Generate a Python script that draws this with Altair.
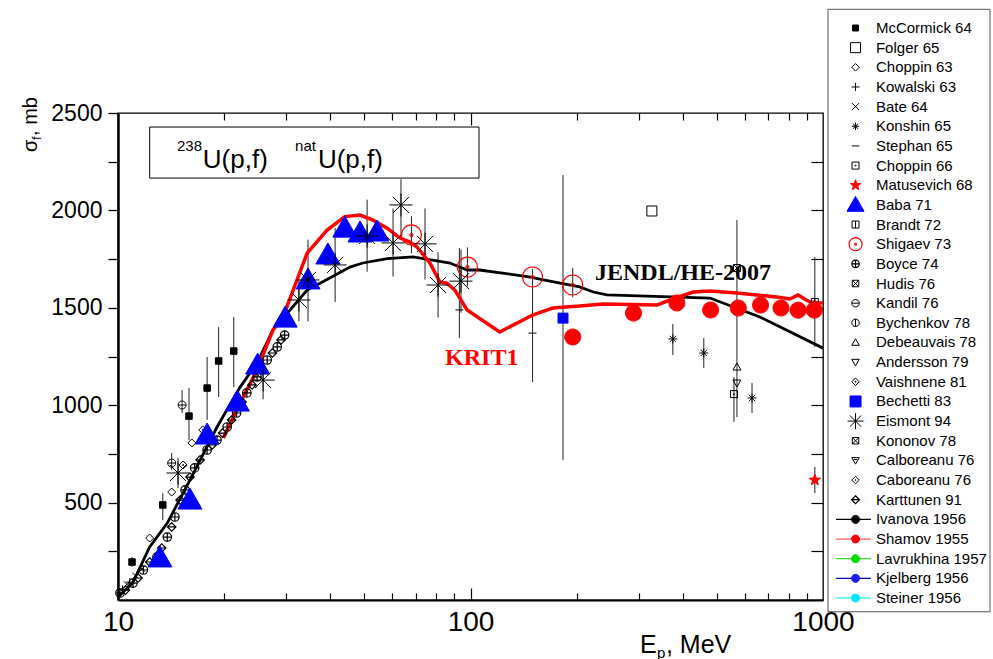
import altair as alt
import pandas as pd

# ------------------------------------------------------------------ data
# evaluated curves
jendl_e = [10, 11.0, 12.3, 13.8, 16.0, 17.1, 19.1, 22.2, 24.8, 27.5, 34.4, 39.9, 45.5, 49.5,
           58.0, 68.7, 87.5, 97.8, 106, 148, 161, 204, 223, 244, 478, 662, 1000]
jendl_s = [15, 87, 272, 395, 616, 718, 888, 1093, 1216, 1386, 1591, 1653, 1709, 1730,
           1752, 1761, 1730, 1694, 1694, 1658, 1643, 1607, 1581, 1566, 1550, 1453, 1293]

krit_e = [19.9, 22.2, 24.8, 27.5, 29.4, 34.4, 39.2, 44.0, 48.6, 52.9, 58.0, 63.1, 67.3, 70.5,
          76.7, 81.9, 85.7, 90.3, 97.8, 121, 150, 171, 204, 238, 338, 368, 428, 478, 570,
          740, 806, 849, 918, 1000]
krit_s = [832, 1011, 1180, 1386, 1453, 1781, 1899, 1968, 1976, 1950, 1909, 1858, 1838, 1812,
          1730, 1632, 1627, 1591, 1489, 1376, 1463, 1499, 1509, 1519, 1514, 1540, 1581, 1586,
          1576, 1555, 1545, 1566, 1530, 1524]

# experimental points
mccormick_e = [10.96, 13.4, 15.9, 17.9, 19.3, 21.3]
mccormick_s = [195, 488, 944, 1088, 1227, 1278]
mccormick_lo = [170, 410, 821, 924, 1042, 1093]
mccormick_hi = [221, 549, 1088, 1247, 1401, 1453]

folger_e = [327]
folger_s = [1997]

choppin63_e = [12.3, 14.2, 16.2]
choppin63_s = [318, 554, 806]

kowalski_e = [10.3, 10.8]
kowalski_s = [55, 92]

bate_e = [10.6, 11.2, 11.7]
bate_s = [80, 125, 160]

konshin_e = [375, 459, 629]
konshin_s = [1340, 1268, 1037]
konshin_lo = [1258, 1191, 960]
konshin_hi = [1417, 1345, 1114]

stephan_e = [93, 150]
stephan_s = [1489, 1370]
stephan_lo = [1345, 1119]
stephan_hi = [1807, 1607]

choppin66_e = [559]
choppin66_s = [1057]
choppin66_lo = [914]
choppin66_hi = [1145]

matusevich_e = [948]
matusevich_s = [616]
matusevich_lo = [549]
matusevich_hi = [683]

baba_e = [13.15, 16.0, 17.9, 21.8, 24.9, 29.8, 34.6, 39.4, 44.0, 48.6, 54.3]
baba_s = [216, 513, 847, 1016, 1206, 1447, 1643, 1771, 1909, 1884, 1889]

brandt_e = [948]
brandt_s = [1530]
brandt_lo = [1299]
brandt_hi = [1761]

shigaev_e = [68, 98, 150, 195]
shigaev_s = [1874, 1709, 1658, 1617]
shigaev_lo = [1780, 1610, 1600, 1555]
shigaev_hi = [1970, 1810, 1700, 1704]

boyce_e = [10.13, 11.03, 11.8, 12.9, 13.8, 14.5, 15.5, 16.5, 17.9, 19.1, 20.4, 21.7, 23.2,
           24.8, 26.5, 28.3, 29.7]
boyce_s = [36, 87, 154, 221, 323, 426, 565, 678, 770, 821, 888, 960, 1063, 1145, 1232, 1299, 1360]

hudis_e = [570]
hudis_s = [1704]
hudis_lo = [939]
hudis_hi = [1950]

kandil_e = [15.2, 14.2]
kandil_s = [1001, 703]
kandil_lo = [960, 667]
kandil_hi = [1078, 754]

debeauvais_e = [570]
debeauvais_s = [1196]

andersson_e = [570]
andersson_s = [1114]

vaishnene_e = [15.3, 17.4]
vaishnene_s = [693, 873]

bechetti_e = [183]
bechetti_s = [1447]
bechetti_lo = [719]
bechetti_hi = [2182]

eismont_e = [14.8, 25.8, 32.6, 34.6, 41.3, 50.9, 60.3, 63.5, 74.3, 80.9, 94.0]
eismont_s = [652, 1129, 1540, 1643, 1720, 1869, 1833, 2028, 1828, 1617, 1637]
eismont_lo = [575, 1030, 1430, 1430, 1530, 1685, 1660, 1850, 1645, 1450, 1475]
eismont_hi = [730, 1230, 1650, 1850, 1910, 2055, 2010, 2160, 2010, 1785, 1800]

karttunen_e = [10.5, 11.4, 12.3, 13.3, 14.2, 15.0, 16.0, 17.1, 18.5, 19.8, 21.0, 22.5, 24.0,
               25.6, 27.4, 29.0]
karttunen_s = [51, 113, 195, 267, 375, 513, 631, 719, 796, 857, 924, 1016, 1104, 1181, 1268, 1335]

shamov_e = [195, 290, 385, 480, 575, 665, 760, 850, 945]
shamov_s = [1350, 1473, 1525, 1489, 1499, 1514, 1499, 1488, 1488]

# axis ticks
x_tick_labels = [10, 100, 1000]
x_minor = [20, 30, 40, 50, 60, 70, 80, 90, 200, 300, 400, 500, 600, 700, 800, 900]
y_ticks = [250, 500, 750, 1000, 1250, 1500, 1750, 2000, 2250, 2500]

legend_names = ["McCormick 64", "Folger 65", "Choppin 63", "Kowalski 63", "Bate 64",
                "Konshin 65", "Stephan 65", "Choppin 66", "Matusevich 68", "Baba 71",
                "Brandt 72", "Shigaev 73", "Boyce 74", "Hudis 76", "Kandil 76",
                "Bychenkov 78", "Debeauvais 78", "Andersson 79", "Vaishnene 81", "Bechetti 83",
                "Eismont 94", "Kononov 78", "Calboreanu 76", "Caboreanu 76", "Karttunen 91",
                "Ivanova 1956", "Shamov 1955", "Lavrukhina 1957", "Kjelberg 1956", "Steiner 1956"]

# ------------------------------------------------------------------ styles
C = "M-1,0A1,1,0,1,1,1,0A1,1,0,1,1,-1,0Z"
SQ = "M-1,-1L1,-1L1,1L-1,1Z"
DI = "M0,-1L1,0L0,1L-1,0Z"
TU = "M0,-1L1,0.75L-1,0.75Z"
TD = "M0,1L1,-0.75L-1,-0.75Z"
DOT = "M-0.15,0A0.15,0.15,0,1,1,0.15,0A0.15,0.15,0,1,1,-0.15,0Z"
HL = "M-1,0L1,0"
VL = "M0,-1L0,1"
XL = "M-1,-1L1,1M-1,1L1,-1"
XD = "M-0.7,-0.7L0.7,0.7M-0.7,0.7L0.7,-0.7"
STAR = ("M0,-1L0.235,-0.324L0.951,-0.309L0.38,0.124L0.588,0.809L0,0.4L-0.588,0.809"
        "L-0.38,0.124L-0.951,-0.309L-0.235,-0.324Z")
NONE = "transparent"
RED = "#ff0000"
BLUE = "#0000ff"

# name: (shape, stroke, fill, plot size, legend size, stroke width)
style = {
    "McCormick 64": (SQ, "black", "black", 42, 36, 1),
    "Folger 65": (SQ, "black", NONE, 100, 100, 1),
    "Choppin 63": (DI, "black", NONE, 64, 56, 1),
    "Kowalski 63": (HL + VL, "black", NONE, 64, 64, 1),
    "Bate 64": (XL, "black", NONE, 36, 49, 1),
    "Konshin 65": (HL + VL + XD, "black", NONE, 81, 56, 1),
    "Stephan 65": (HL, "black", NONE, 64, 56, 1),
    "Choppin 66": (SQ + DOT, "black", NONE, 49, 49, 1),
    "Matusevich 68": (STAR, RED, RED, 144, 121, 1),
    "Baba 71": (TU, BLUE, BLUE, 576, 289, 1),
    "Brandt 72": (SQ + VL, "black", NONE, 49, 49, 1),
    "Shigaev 73": (C + DOT, RED, NONE, 400, 169, 1.2),
    "Boyce 74": (C + HL + VL, "black", NONE, 72, 56, 1.2),
    "Hudis 76": (SQ + XL, "black", NONE, 49, 42, 1),
    "Kandil 76": (C + HL, "black", NONE, 64, 56, 1),
    "Bychenkov 78": (C + VL, "black", NONE, 64, 56, 1),
    "Debeauvais 78": (TU, "black", NONE, 64, 56, 1),
    "Andersson 79": (TD, "black", NONE, 64, 56, 1),
    "Vaishnene 81": (DI + DOT, "black", NONE, 64, 56, 1),
    "Bechetti 83": (SQ, BLUE, BLUE, 100, 121, 1),
    "Eismont 94": (HL + VL + XD, "black", NONE, 529, 256, 1),
    "Kononov 78": (SQ + XL, "black", NONE, 49, 42, 1),
    "Calboreanu 76": (TD + "M-0.5,-0.25L0.5,-0.25", "black", NONE, 64, 56, 1),
    "Caboreanu 76": (DI + DOT, "black", NONE, 64, 56, 1),
    "Karttunen 91": (DI + HL, "black", NONE, 72, 64, 1.2),
    "Ivanova 1956": (C, "black", "black", 49, 64, 1),
    "Shamov 1955": (C, RED, RED, 256, 64, 1),
    "Lavrukhina 1957": (C, "#00dd00", "#00dd00", 49, 64, 1),
    "Kjelberg 1956": (C, "#1a1aff", "#1a1aff", 49, 64, 1),
    "Steiner 1956": (C, "#00e5ff", "#00e5ff", 49, 64, 1),
}
legend_line_colors = {"Ivanova 1956": "black", "Shamov 1955": "#ff5a5a",
                      "Lavrukhina 1957": "#33dd33", "Kjelberg 1956": "#0000b0",
                      "Steiner 1956": "#40f0ff"}

# ------------------------------------------------------------------ tables
series = [
    ("Boyce 74", boyce_e, boyce_s, None, None),
    ("Karttunen 91", karttunen_e, karttunen_s, None, None),
    ("Kowalski 63", kowalski_e, kowalski_s, None, None),
    ("Bate 64", bate_e, bate_s, None, None),
    ("McCormick 64", mccormick_e, mccormick_s, mccormick_lo, mccormick_hi),
    ("Choppin 63", choppin63_e, choppin63_s, None, None),
    ("Kandil 76", kandil_e, kandil_s, kandil_lo, kandil_hi),
    ("Vaishnene 81", vaishnene_e, vaishnene_s, None, None),
    ("Folger 65", folger_e, folger_s, None, None),
    ("Konshin 65", konshin_e, konshin_s, konshin_lo, konshin_hi),
    ("Stephan 65", stephan_e, stephan_s, stephan_lo, stephan_hi),
    ("Choppin 66", choppin66_e, choppin66_s, choppin66_lo, choppin66_hi),
    ("Debeauvais 78", debeauvais_e, debeauvais_s, None, None),
    ("Andersson 79", andersson_e, andersson_s, None, None),
    ("Hudis 76", hudis_e, hudis_s, hudis_lo, hudis_hi),
    ("Brandt 72", brandt_e, brandt_s, brandt_lo, brandt_hi),
    ("Baba 71", baba_e, baba_s, None, None),
    ("Shamov 1955", shamov_e, shamov_s, None, None),
    ("Shigaev 73", shigaev_e, shigaev_s, shigaev_lo, shigaev_hi),
    ("Bechetti 83", bechetti_e, bechetti_s, bechetti_lo, bechetti_hi),
    ("Eismont 94", eismont_e, eismont_s, eismont_lo, eismont_hi),
    ("Matusevich 68", matusevich_e, matusevich_s, matusevich_lo, matusevich_hi),
]

pt_rows, err_rows = [], []
k = 0
for name, e, s, lo, hi in series:
    for i in range(len(e)):
        pt_rows.append({"series": name, "e": e[i], "s": s[i], "k": k})
        k += 1
        if lo is not None:
            err_rows.append({"series": name, "e": e[i], "lo": lo[i], "hi": hi[i]})
pts_df = pd.DataFrame(pt_rows)
err_df = pd.DataFrame(err_rows)
jendl_df = pd.DataFrame({"e": jendl_e, "s": jendl_s})
krit_df = pd.DataFrame({"e": krit_e, "s": krit_s})

names = legend_names
shape_rng = [style[n][0] for n in names]
stroke_rng = [style[n][1] for n in names]
fill_rng = [style[n][2] for n in names]
psize_rng = [style[n][3] for n in names]
lsize_rng = [style[n][4] for n in names]
sw_rng = [style[n][5] for n in names]

# ------------------------------------------------------------------ scales
XS = alt.Scale(type="log", domain=[10, 1000], nice=False)
YS = alt.Scale(domain=[0, 2500], nice=False, zero=False)
FONT = "Liberation Sans"
SERIF = "Liberation Serif"


def X(field="e", axis=None):
    return alt.X(f"{field}:Q", scale=XS, axis=axis)


def Y(field="s", axis=None):
    return alt.Y(f"{field}:Q", scale=YS, axis=axis)


def axis_layer(xaxis, yaxis):
    return alt.Chart(jendl_df).mark_point(opacity=0).encode(x=X(axis=xaxis), y=Y(axis=yaxis))


ax_bottom = alt.Axis(orient="bottom", values=x_tick_labels, format="d", ticks=False, tickSize=0,
                     labelFontSize=28, labelPadding=8, labelFlush=False, labelOverlap=False,
                     labelFont=FONT, domainWidth=2, domainColor="black", title=None, grid=False)
ax_left = alt.Axis(orient="left", values=y_ticks, format="d",
                   labelExpr="datum.value % 500 === 0 ? datum.label : ''",
                   tickSize=10, tickWidth=1.3, labelFontSize=23, labelPadding=6,
                   labelFlush=False, labelOverlap=False, labelFont=FONT,
                   domainWidth=2.5, domainColor="black", title=None, grid=False)


def inner_axis(orient, values, size):
    return alt.Axis(orient=orient, values=values, offset=-size, tickSize=size, tickWidth=1.2,
                    domain=False, labels=False, title=None, grid=False)


axes = [
    axis_layer(ax_bottom, ax_left),
    axis_layer(inner_axis("bottom", [100], 12), inner_axis("right", y_ticks[:-1], 12)),
    axis_layer(inner_axis("bottom", x_minor, 7), None),
    axis_layer(inner_axis("top", [100], 12), None),
    axis_layer(inner_axis("top", x_minor, 7), None),
]

errbars = alt.Chart(err_df).mark_rule(color="#222222", strokeWidth=1).encode(
    x=X(), y=Y("lo"), y2="hi:Q")

jendl_line = alt.Chart(jendl_df).mark_line(color="black", strokeWidth=2.8, clip=False).encode(
    x=X(), y=Y())
krit_line = alt.Chart(krit_df).mark_line(color=RED, strokeWidth=3.5, clip=False).encode(
    x=X(), y=Y())

points = alt.Chart(pts_df).mark_point(filled=True, opacity=1, clip=False).encode(
    x=X(), y=Y(),
    shape=alt.Shape("series:N", scale=alt.Scale(domain=names, range=shape_rng), legend=None),
    fill=alt.Fill("series:N", scale=alt.Scale(domain=names, range=fill_rng), legend=None),
    stroke=alt.Stroke("series:N", scale=alt.Scale(domain=names, range=stroke_rng), legend=None),
    size=alt.Size("series:N", scale=alt.Scale(type="ordinal", domain=names, range=psize_rng),
                  legend=None),
    strokeWidth=alt.StrokeWidth("series:N",
                                scale=alt.Scale(type="ordinal", domain=names, range=sw_rng),
                                legend=None),
    order=alt.Order("k:Q"),
)

# reaction label box
box_df = pd.DataFrame({"x1": [12.3], "x2": [105.7], "y1": [2166], "y2": [2428]})
box = alt.Chart(box_df).mark_rect(fill="white", stroke="black", strokeWidth=1).encode(
    x=X("x1"), x2="x2:Q", y=Y("y1"), y2="y2:Q")

big_df = pd.DataFrame({"e": [17.4, 36.9], "s": [2218, 2218], "t": ["U(p,f)", "U(p,f)"]})
sup_df = pd.DataFrame({"e": [14.7, 31.8], "s": [2305, 2305], "t": ["238", "nat"]})
big_txt = alt.Chart(big_df).mark_text(align="left", baseline="alphabetic", fontSize=26,
                                      font=FONT, color="black").encode(x=X(), y=Y(), text="t:N")
sup_txt = alt.Chart(sup_df).mark_text(align="left", baseline="alphabetic", fontSize=15,
                                      font=FONT, color="black").encode(x=X(), y=Y(), text="t:N")

krit_lab = alt.Chart(pd.DataFrame({"e": [84.7], "s": [1206], "t": ["KRIT1"]})).mark_text(
    align="left", baseline="alphabetic", fontSize=24, font=SERIF, fontWeight="bold",
    color=RED).encode(x=X(), y=Y(), text="t:N")
jendl_lab = alt.Chart(pd.DataFrame({"e": [225.5], "s": [1643], "t": ["JENDL/HE-2007"]})).mark_text(
    align="left", baseline="alphabetic", fontSize=24, font=SERIF, fontWeight="bold",
    color="black").encode(x=X(), y=Y(), text="t:N")

# axis titles (with subscripts)
xt_big = pd.DataFrame({"e": [302.6, 358.5], "s": [-272, -272], "t": ["E", ", MeV"]})
xt_sub = pd.DataFrame({"e": [338.1], "s": [-298], "t": ["p"]})
yt_big = pd.DataFrame({"e": [5.89, 5.89], "s": [2300, 2382], "t": ["σ", ", mb"]})
yt_sub = pd.DataFrame({"e": [6.05], "s": [2361], "t": ["f"]})
x_title = alt.Chart(xt_big).mark_text(align="left", baseline="alphabetic", fontSize=25, font=FONT,
                                      color="black").encode(x=X(), y=Y(), text="t:N")
x_title_sub = alt.Chart(xt_sub).mark_text(align="left", baseline="alphabetic", fontSize=15,
                                          font=FONT, color="black").encode(x=X(), y=Y(), text="t:N")
y_title = alt.Chart(yt_big).mark_text(align="left", baseline="alphabetic", fontSize=20, font=FONT,
                                      angle=270, color="black").encode(x=X(), y=Y(), text="t:N")
y_title_sub = alt.Chart(yt_sub).mark_text(align="left", baseline="alphabetic", fontSize=13,
                                          font=FONT, angle=270,
                                          color="black").encode(x=X(), y=Y(), text="t:N")

# ------------------------------------------------------------------ legend (own scales)
LX = alt.Scale(domain=[0, 1], range=[710, 872])
LY = alt.Scale(domain=[0, 29], range=[-85, 485])

leg_df = pd.DataFrame({"series": names, "row": list(range(len(names))),
                       "sx": [0.17] * len(names), "tx": [0.296] * len(names)})
line_names = list(legend_line_colors.keys())
leg_line_df = pd.DataFrame({"series": line_names,
                            "row": [names.index(n) for n in line_names],
                            "x0": [0.05] * len(line_names), "x1": [0.265] * len(line_names)})
leg_box_df = pd.DataFrame({"x0": [0], "x1": [1], "y0": [-0.95], "y1": [29.7]})

leg_box = alt.Chart(leg_box_df).mark_rect(fill="white", stroke="#555555", strokeWidth=1).encode(
    x=alt.X("x0:Q", scale=LX, axis=None), x2="x1:Q",
    y=alt.Y("y0:Q", scale=LY, axis=None), y2="y1:Q")
leg_lines = alt.Chart(leg_line_df).mark_rule(strokeWidth=1.3).encode(
    x=alt.X("x0:Q", scale=LX, axis=None), x2="x1:Q",
    y=alt.Y("row:Q", scale=LY, axis=None),
    color=alt.Color("series:N", scale=alt.Scale(domain=line_names,
                                                range=[legend_line_colors[n] for n in line_names]),
                    legend=None))
leg_syms = alt.Chart(leg_df).mark_point(filled=True, opacity=1).encode(
    x=alt.X("sx:Q", scale=LX, axis=None),
    y=alt.Y("row:Q", scale=LY, axis=None),
    shape=alt.Shape("series:N", scale=alt.Scale(domain=names, range=shape_rng), legend=None),
    fill=alt.Fill("series:N", scale=alt.Scale(domain=names, range=fill_rng), legend=None),
    stroke=alt.Stroke("series:N", scale=alt.Scale(domain=names, range=stroke_rng), legend=None),
    size=alt.Size("series:N", scale=alt.Scale(type="ordinal", domain=names, range=lsize_rng),
                  legend=None),
    strokeWidth=alt.StrokeWidth("series:N",
                                scale=alt.Scale(type="ordinal", domain=names, range=sw_rng),
                                legend=None),
)
leg_text = alt.Chart(leg_df).mark_text(align="left", baseline="middle", fontSize=15, font=FONT,
                                       color="black").encode(
    x=alt.X("tx:Q", scale=LX, axis=None),
    y=alt.Y("row:Q", scale=LY, axis=None),
    text="series:N")

layers = axes + [errbars, box, jendl_line, krit_line, points, big_txt, sup_txt, krit_lab,
                 jendl_lab, x_title, x_title_sub, y_title, y_title_sub,
                 leg_box, leg_lines, leg_syms, leg_text]

chart = alt.layer(*layers).resolve_scale(
    x="independent", y="independent", shape="independent", fill="independent",
    stroke="independent", size="independent", strokeWidth="independent", color="independent",
).properties(
    width=705, height=487,
    autosize=alt.AutoSizeParams(type="none"),
    padding={"left": 118, "top": 113, "right": 170, "bottom": 59},
    background="white",
).configure_view(
    stroke="black", strokeWidth=1.3
).configure_axis(
    grid=False, domainColor="black", tickColor="black", labelColor="black"
)

chart.save("out.html", embed_options={"renderer": "svg", "actions": False})
